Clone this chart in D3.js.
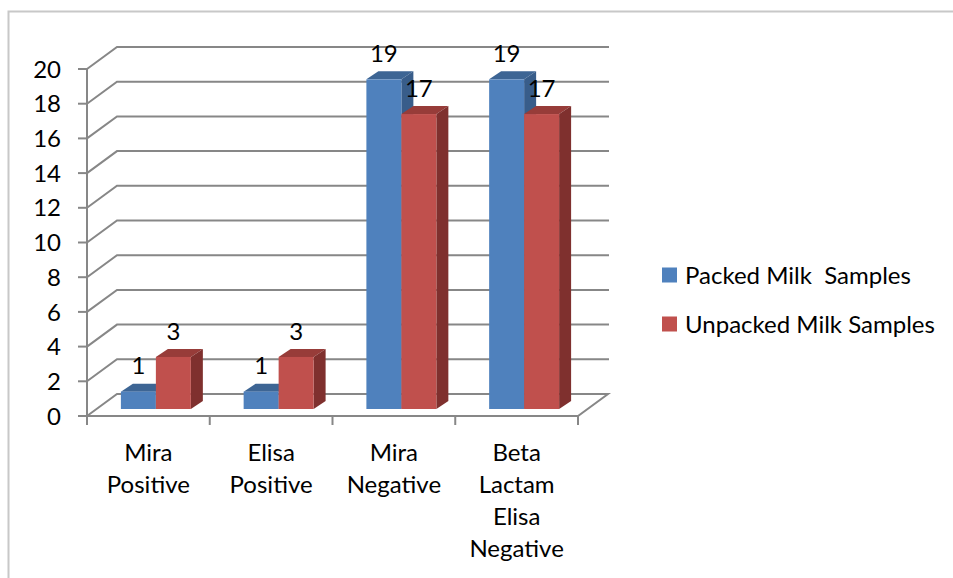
<!DOCTYPE html>
<html>
<head>
<meta charset="utf-8">
<script src="https://cdn.jsdelivr.net/npm/d3@7"></script>
<style>
  body { margin: 0; background: #fff; }
  text { font-family: Lato, "Open Sans", sans-serif; fill: #000; }
</style>
</head>
<body>
<svg id="chart" width="953" height="578"></svg>
<script>
// data
const categories = [["Mira", "Positive"], ["Elisa", "Positive"], ["Mira", "Negative"], ["Beta", "Lactam", "Elisa", "Negative"]];
const seriesNames = ["Packed Milk  Samples", "Unpacked Milk Samples"];
const packed = [1, 1, 19, 19];
const unpacked = [3, 3, 17, 17];
const yTicks = [0, 2, 4, 6, 8, 10, 12, 14, 16, 18, 20];

const colors = [
  { front: "#4F81BD", top: "#3D6594", side: "#385D8A" },
  { front: "#C0504D", top: "#973C39", side: "#7F302E" }
];

const svg = d3.select("#chart");
const width = 953, height = 578;
const fontSize = 24;

// frame
svg.append("path")
  .attr("d", `M8.5,${height}V11.5H${width}`)
  .attr("fill", "none")
  .attr("stroke", "#c8c8c8")
  .attr("stroke-width", 2);

// plot geometry
const left = 87, right = 578, floorY = 416, topY = 69;
const depthX = 30, depthY = -22;       // wall depth
const barShiftX = 9.5, barShiftY = -7;  // bars sit a bit back on the floor
const barDX = 12, barDY = -8;          // bar depth

const y = d3.scaleLinear().domain([0, 20]).range([floorY, topY]);
const x = d3.scaleBand().domain(d3.range(categories.length)).range([left, right]);
const bw = x.bandwidth();
const barW = bw * 0.285;

const grid = svg.append("g")
  .attr("fill", "none")
  .attr("stroke", "#878787")
  .attr("stroke-width", 2);

// side wall diagonals + back wall gridlines
yTicks.forEach(t => {
  const yy = y(t);
  if (t === 0) return;
  grid.append("path")
    .attr("d", `M${left},${yy}L${left + depthX},${yy + depthY}H${right + depthX + 1}`);
});

// floor
grid.append("path")
  .attr("d", `M${left},${floorY}L${left + depthX},${floorY + depthY}H${right + depthX}L${right},${floorY}Z`);

// front y axis with ticks
grid.append("path").attr("d", `M${left},${topY}V${floorY}`);
yTicks.forEach(t => {
  grid.append("path").attr("d", `M${left - 9},${y(t)}H${left}`);
});
// category ticks
d3.range(categories.length + 1).forEach(i => {
  const xx = i < categories.length ? x(i) : right;
  grid.append("path").attr("d", `M${xx},${floorY}V${floorY + 9}`);
});

// y tick labels
svg.append("g").selectAll("text")
  .data(yTicks)
  .join("text")
  .attr("x", 61)
  .attr("y", d => y(d))
  .attr("dy", "0.36em")
  .attr("text-anchor", "end")
  .attr("font-size", fontSize)
  .text(d => d);

// bars
const seriesData = [packed, unpacked];
const bars = [];
categories.forEach((c, ci) => {
  const x0 = x(ci) + barShiftX + (bw - 2 * barW) / 2 - 2;
  seriesData.forEach((vals, si) => {
    const bx = x0 + si * barW;
    const by = y(vals[ci]) + barShiftY;
    const bb = floorY + barShiftY;
    bars.push({ ci, si, bx, by, bb, v: vals[ci] });
  });
});

const barG = svg.append("g");
bars.forEach(b => {
  const col = colors[b.si];
  const g = barG.append("g");
  // top face
  g.append("path")
    .attr("d", `M${b.bx},${b.by}L${b.bx + barDX},${b.by + barDY}H${b.bx + barW + barDX}L${b.bx + barW},${b.by}Z`)
    .attr("fill", col.top);
  // side face
  g.append("path")
    .attr("d", `M${b.bx + barW},${b.by}L${b.bx + barW + barDX},${b.by + barDY}V${b.bb + barDY}L${b.bx + barW},${b.bb}Z`)
    .attr("fill", col.side);
  // front face
  g.append("rect")
    .attr("x", b.bx)
    .attr("y", b.by)
    .attr("width", barW)
    .attr("height", b.bb - b.by)
    .attr("fill", col.front);
});

// value labels
svg.append("g").selectAll("text")
  .data(bars)
  .join("text")
  .attr("x", d => d.bx + barW / 2)
  .attr("y", d => d.by - 26)
  .attr("dy", "0.36em")
  .attr("text-anchor", "middle")
  .attr("font-size", fontSize)
  .text(d => d.v);

// category labels
const catG = svg.append("g");
categories.forEach((lines, ci) => {
  const t = catG.append("text")
    .attr("text-anchor", "middle")
    .attr("font-size", fontSize);
  lines.forEach((ln, li) => {
    t.append("tspan")
      .attr("x", x(ci) + bw / 2)
      .attr("y", 452 + li * 32)
      .attr("dy", "0.36em")
      .text(ln);
  });
});

// legend
const legend = svg.append("g");
seriesNames.forEach((name, i) => {
  const ly = 275 + i * 49;
  legend.append("rect")
    .attr("x", 662)
    .attr("y", ly - 7.5)
    .attr("width", 15)
    .attr("height", 15)
    .attr("fill", colors[i].front);
  legend.append("text")
    .attr("x", 685)
    .attr("y", ly)
    .attr("dy", "0.36em")
    .attr("font-size", fontSize)
    .style("white-space", "pre")
    .text(name);
});
</script>
</body>
</html>
